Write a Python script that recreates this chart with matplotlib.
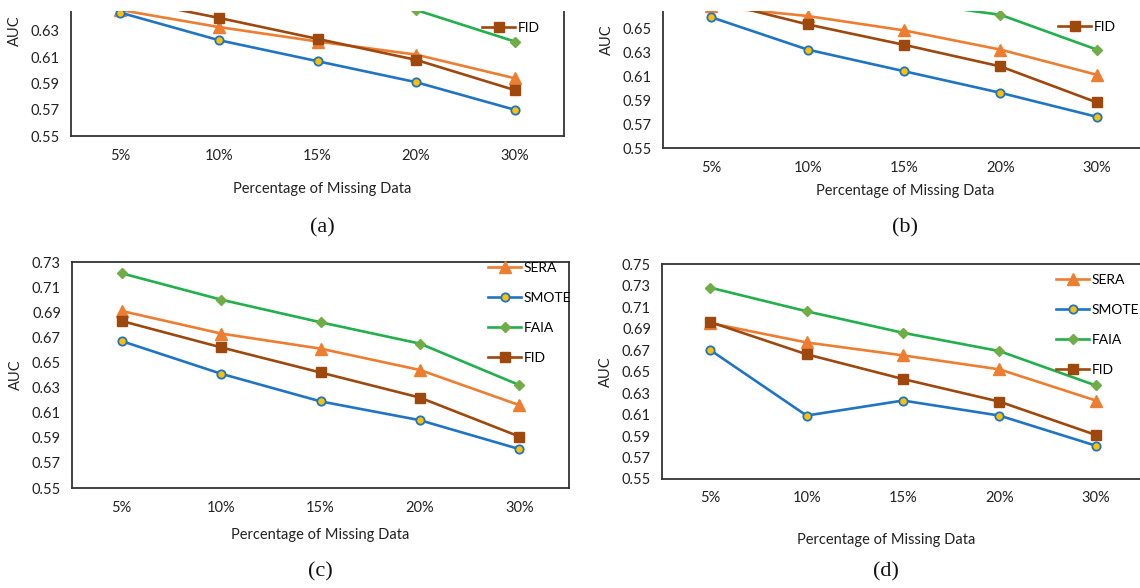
import matplotlib
matplotlib.use("Agg")
import matplotlib.pyplot as plt
from matplotlib.patches import Rectangle

plt.rcParams['font.family'] = ['Lato', 'DejaVu Sans']

# x categories shared by every panel
missing = ['5%', '10%', '15%', '20%', '30%']

# panel (a)
a_sera = [0.646, 0.633, 0.622, 0.612, 0.594]
a_smote = [0.644, 0.623, 0.607, 0.591, 0.570]
a_faia = [0.700, 0.680, 0.662, 0.646, 0.622]
a_fid = [0.655, 0.640, 0.624, 0.608, 0.585]

# panel (b)
b_sera = [0.668, 0.660, 0.648, 0.632, 0.611]
b_smote = [0.659, 0.632, 0.614, 0.596, 0.576]
b_faia = [0.710, 0.690, 0.672, 0.661, 0.632]
b_fid = [0.673, 0.653, 0.636, 0.618, 0.588]

# panel (c)
c_sera = [0.691, 0.673, 0.661, 0.644, 0.616]
c_smote = [0.667, 0.641, 0.619, 0.604, 0.581]
c_faia = [0.721, 0.700, 0.682, 0.665, 0.632]
c_fid = [0.683, 0.662, 0.642, 0.622, 0.591]

# panel (d)
d_sera = [0.695, 0.677, 0.665, 0.652, 0.623]
d_smote = [0.670, 0.609, 0.623, 0.609, 0.581]
d_faia = [0.728, 0.706, 0.686, 0.669, 0.637]
d_fid = [0.696, 0.666, 0.643, 0.622, 0.591]

W, H = 1140, 588
TOP_BAND = 11  # blank strip along the top edge, in pixels
fig = plt.figure(figsize=(W / 100, H / 100), dpi=100)


def px_axes(left, top, right, bottom):
    """Axes from pixel edges (origin top-left)."""
    return fig.add_axes([left / W, 1 - bottom / H, (right - left) / W, (bottom - top) / H])


styles = {
    'SERA': dict(color='#ED7D31', marker='^', ms=8, mfc='#ED7D31', mec='#ED7D31'),
    'SMOTE': dict(color='#1F74C4', marker='o', ms=6, mfc='#FFC000', mec='#1F74C4', mew=1.3),
    'FAIA': dict(color='#21B04B', marker='D', ms=5.5, mfc='#70AD47', mec='#70AD47'),
    'FID': dict(color='#9E480E', marker='s', ms=7, mfc='#9E480E', mec='#9E480E'),
}


def draw_panel(box, ymax, series, leg_xy, xlab_xy, cap_xy, cap,
               show_right=True, leg_names=None):
    ax = px_axes(*box)
    x = range(len(missing))
    lines = {}
    for name, vals in series:
        lines[name], = ax.plot(x, vals, lw=1.9, label=name, **styles[name])
    ax.set_xlim(-0.5, len(missing) - 0.5)
    ax.set_ylim(0.55, ymax)

    # only label the ticks that fall inside the visible part of the figure
    left, top, right, bottom = box
    vis_top = ymax - (ymax - 0.55) * max(TOP_BAND - top, 0) / (bottom - top)
    n = int(round((ymax - 0.55) / 0.02))
    ticks = [round(0.55 + 0.02 * i, 2) for i in range(n + 1)]
    ticks = [t for t in ticks if t <= vis_top + 0.004]
    ax.set_yticks(ticks)
    ax.set_yticklabels([f'{t:.2f}' for t in ticks])
    ax.set_xticks(list(x))
    ax.set_xticklabels(missing)
    ax.tick_params(length=0, labelsize=10.5, colors='#222222')
    ax.tick_params(axis='y', pad=8)
    ax.tick_params(axis='x', pad=9)
    for s in ax.spines.values():
        s.set_color('#333333')
        s.set_linewidth(1.3)
    ax.spines['right'].set_visible(show_right)
    ax.set_ylabel('AUC', fontsize=10.5, color='#222222', labelpad=6)

    fig.text(xlab_xy[0] / W, 1 - xlab_xy[1] / H, 'Percentage of Missing Data',
             ha='center', va='center', fontsize=10.5, color='#222222')
    fig.text(cap_xy[0] / W, 1 - cap_xy[1] / H, cap, ha='center', va='center',
             fontsize=16, family='Liberation Serif', color='#111111')

    names = leg_names or [name for name, _ in series]
    ax.legend([lines[nm] for nm in names], names, loc='upper left',
              bbox_to_anchor=(leg_xy[0] / W, 1 - leg_xy[1] / H),
              bbox_transform=fig.transFigure, frameon=False, fontsize=10,
              handlelength=2.4, handletextpad=0.15, labelspacing=1.3,
              borderpad=0, borderaxespad=0)
    return ax


draw_panel((71, -74, 564, 136), 0.71,
           [('SERA', a_sera), ('SMOTE', a_smote), ('FAIA', a_faia), ('FID', a_fid)],
           (482, 22), (322, 189), (322, 228), '(a)', leg_names=['FID'])
draw_panel((663, -68, 1145, 148), 0.73,
           [('SERA', b_sera), ('SMOTE', b_smote), ('FAIA', b_faia), ('FID', b_fid)],
           (1058, 21), (905, 191), (905, 228), '(b)', show_right=False,
           leg_names=['FID'])
draw_panel((72, 262, 569, 488), 0.73,
           [('SERA', c_sera), ('SMOTE', c_smote), ('FAIA', c_faia), ('FID', c_fid)],
           (488, 262), (320, 535), (320, 572), '(c)')
draw_panel((662, 264, 1144, 479), 0.75,
           [('SERA', d_sera), ('SMOTE', d_smote), ('FAIA', d_faia), ('FID', d_fid)],
           (1056, 274), (886, 540), (886, 572), '(d)', show_right=False)

fig.patches.append(Rectangle((0, 1 - TOP_BAND / H), 1, TOP_BAND / H,
                             transform=fig.transFigure, facecolor='white',
                             edgecolor='none', zorder=10))

fig.savefig('out.png', dpi=100, facecolor='white')
